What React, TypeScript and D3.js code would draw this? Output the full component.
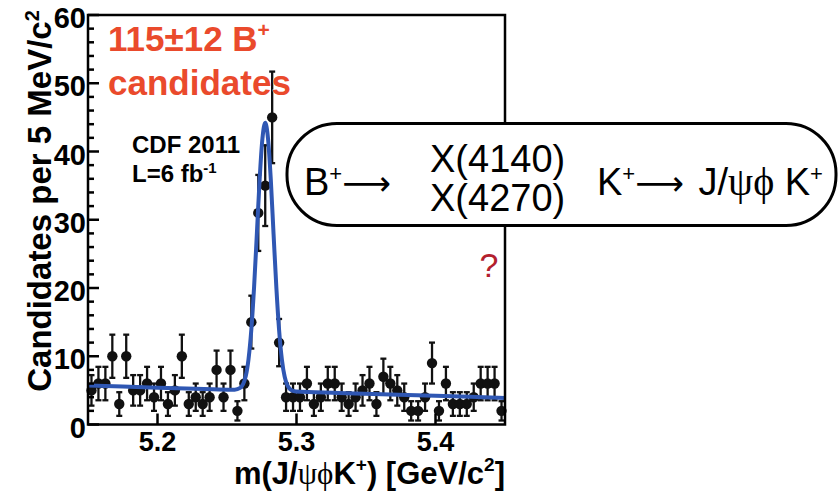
import React from 'react';
import * as d3 from 'd3';

// m(J/psi phi K+) histogram, 5 MeV bins starting at 5.15 GeV
const massRange = [5.15, 5.45];
const binWidth = 0.005;
const counts = [
  5, 6, 6, 10, 3, 10, 5, 5, 6, 4, 6, 3, 5, 10, 3,
  4, 3, 4, 8, 4, 8, 2, 6, 15, 31, 35, 45, 12, 4,
  4, 4, 6, 3, 4, 6, 6, 4, 3, 4, 5, 6, 3, 7, 6,
  5, 4, 2, 2, 4, 9, 2, 6, 3, 3, 3, 4, 6, 6, 6, 2,
];

// fit curve (signal + background)
const fitMass = [
  5.15, 5.2, 5.24, 5.2555, 5.2595, 5.2635, 5.2655, 5.2675, 5.2695, 5.2715, 5.2735, 5.2755,
  5.2775, 5.2795, 5.2815, 5.2835, 5.2855, 5.2875, 5.2895, 5.2915, 5.2955, 5.2995, 5.33, 5.4, 5.45,
];
const fitCounts = [
  5.7, 5.4, 5.16, 5.1, 5.36, 7.1, 9.6, 13.9, 20.2, 28.0, 36.0, 41.9,
  44.2, 41.9, 35.9, 27.9, 20.1, 13.8, 9.5, 7.0, 5.15, 4.83, 4.62, 4.2, 3.9,
];

const xTicks = [5.2, 5.3, 5.4];
const yTicks = [0, 10, 20, 30, 40, 50, 60];
const yMinor = [2, 4, 6, 8, 12, 14, 16, 18, 22, 24, 26, 28, 32, 34, 36, 38, 42, 44, 46, 48, 52, 54, 56, 58];

const sans = 'Liberation Sans, Arial, Helvetica, sans-serif';
const serif = 'Liberation Serif, Times New Roman, serif';
const arrowFont = 'DejaVu Sans, sans-serif';
const red = '#ea4a2c';
const blue = '#2f57b3';

export default function App() {
  const x = d3.scaleLinear().domain(massRange).range([88, 505]);
  const y = d3.scaleLinear().domain([0, 60]).range([424.5, 15]);

  const bins = counts.map((n, i) => ({
    m: massRange[0] + (i + 0.5) * binWidth,
    n,
    e: Math.sqrt(n),
  }));

  const fitLine = d3
    .line<number>()
    .x((_, i) => x(fitMass[i]))
    .y((d) => y(d))
    .curve(d3.curveMonotoneX);

  const [x0, x1] = x.range();
  const [y0, y1] = y.range();

  return (
    <svg width={838} height={492} style={{ position: 'absolute', left: 0, top: 0, background: '#fff' }}>
      {/* data points with error bars */}
      <g stroke="#111" strokeWidth={2.3}>
        {bins.map((b, i) => {
          const hi = y(b.n + b.e);
          const lo = y(Math.max(0, b.n - b.e));
          return (
            <g key={i}>
              <line x1={x(b.m)} x2={x(b.m)} y1={hi} y2={lo} />
              <line x1={x(b.m) - 3} x2={x(b.m) + 3} y1={hi} y2={hi} />
              <line x1={x(b.m) - 3} x2={x(b.m) + 3} y1={lo} y2={lo} />
            </g>
          );
        })}
      </g>
      <g fill="#111">
        {bins.map((b, i) => (
          <circle key={i} cx={x(b.m)} cy={y(b.n)} r={5.2} />
        ))}
      </g>

      {/* fit */}
      <path d={fitLine(fitCounts) || ''} fill="none" stroke={blue} strokeWidth={4} />

      {/* frame and ticks */}
      <rect x={x0} y={y1} width={x1 - x0} height={y0 - y1} fill="none" stroke="#000" strokeWidth={2.5} />
      <g stroke="#000" strokeWidth={2.5}>
        {yTicks.map((t) => (
          <line key={t} x1={x0} x2={x0 + 11} y1={y(t)} y2={y(t)} />
        ))}
        {yMinor.map((t) => (
          <line key={t} x1={x0} x2={x0 + 6} y1={y(t)} y2={y(t)} />
        ))}
        {xTicks.map((t) => (
          <line key={t} x1={x(t)} x2={x(t)} y1={y0} y2={y0 - 11} />
        ))}
      </g>

      {/* tick labels */}
      <g fontFamily={sans} fontWeight={700} fontSize={29} fill="#000">
        {yTicks.map((t) => (
          <text key={t} x={x0 - 2} y={y(t) + 3} dy="0.35em" textAnchor="end">
            {t}
          </text>
        ))}
      </g>
      <g fontFamily={sans} fontWeight={700} fontSize={27} fill="#000">
        {xTicks.map((t) => (
          <text key={t} x={x(t)} y={451} textAnchor="middle">
            {t.toFixed(1)}
          </text>
        ))}
      </g>

      {/* axis titles */}
      <text
        transform="translate(51,201) rotate(-90)"
        textAnchor="middle"
        fontFamily={sans}
        fontWeight={700}
        fontSize={33}
      >
        Candidates per 5 MeV/c<tspan dy={-12} fontSize={20}>2</tspan>
      </text>
      <text x={505} y={484} textAnchor="end" fontFamily={sans} fontWeight={700} fontSize={31}>
        m(J/<tspan fontFamily={serif} fontWeight={400}>ψϕ</tspan>K<tspan dy={-13} fontSize={19}>+</tspan>
        <tspan dy={13}>) [GeV/c</tspan>
        <tspan dy={-13} fontSize={19}>2</tspan>
        <tspan dy={13}>]</tspan>
      </text>

      {/* annotations */}
      <g fontFamily={sans} fontWeight={700} fontSize={35} fill={red} stroke="#fff" strokeWidth={0.6} paintOrder="stroke">
        <text x={108} y={51}>
          115±12 B<tspan dy={-14} fontSize={21}>+</tspan>
        </text>
        <text x={108} y={95}>candidates</text>
      </g>
      <g fontFamily={sans} fontWeight={700} fontSize={24} fill="#000">
        <text x={132} y={153}>CDF 2011</text>
        <text x={132} y={182}>
          L=6 fb<tspan dy={-9} fontSize={15}>-1</tspan>
        </text>
      </g>

      {/* decay box */}
      <rect x={287} y={123.5} width={549} height={102} rx={50} ry={50} fill="#fff" stroke="#000" strokeWidth={3} />
      <g fontFamily={sans} fontSize={38} fill="#000">
        <text x={304} y={195}>
          B<tspan dy={-14} fontSize={22}>+</tspan>
          <tspan dy={14} fontFamily={arrowFont} fontSize={34}>⟶</tspan>
        </text>
        <text x={430} y={172}>X(4140)</text>
        <text x={430} y={211}>X(4270)</text>
        <text x={597} y={195}>
          K<tspan dy={-14} fontSize={22}>+</tspan>
          <tspan dy={14} fontFamily={arrowFont} fontSize={34}>⟶</tspan>
          <tspan dx={4}> J/</tspan>
          <tspan fontFamily={serif} fontSize={40}>ψϕ</tspan>
          <tspan> K</tspan>
          <tspan dy={-14} fontSize={22}>+</tspan>
        </text>
      </g>
      <text x={489} y={277} textAnchor="middle" fontFamily={sans} fontSize={34} fill="#b3202e">
        ?
      </text>
    </svg>
  );
}
